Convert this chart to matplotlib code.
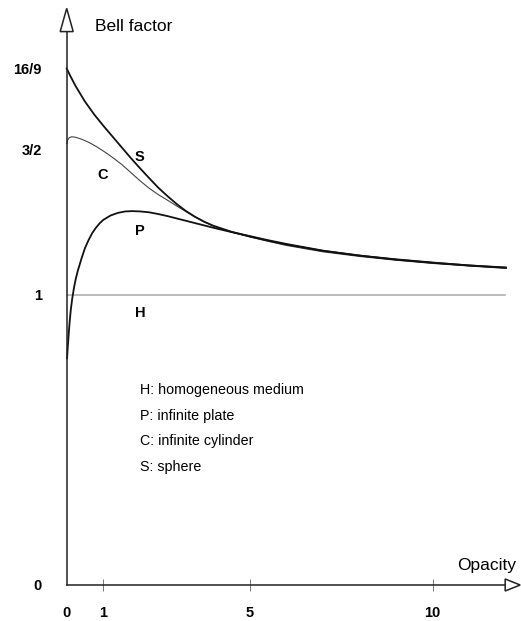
import matplotlib
matplotlib.use("Agg")
import matplotlib.pyplot as plt
from matplotlib.patches import Polygon

plt.rcParams['font.family'] = ['Liberation Sans', 'DejaVu Sans']

# ---- data ----
s_x = [0, 0.1, 0.25, 0.5, 0.75, 1.0, 1.25, 1.5, 1.75, 2.0, 2.25, 2.5, 2.75, 3.0, 3.25,
       3.5, 3.75, 4.0, 4.5, 5, 5.5, 6, 7, 8, 9, 10, 11, 12]
s_y = [1.778, 1.752, 1.716, 1.664, 1.620, 1.581, 1.544, 1.507, 1.470, 1.435, 1.401,
       1.368, 1.339, 1.312, 1.288, 1.268, 1.251, 1.237, 1.216, 1.200, 1.185, 1.172,
       1.150, 1.134, 1.121, 1.110, 1.100, 1.092]

c_x = [0, 0.03, 0.07, 0.14, 0.25, 0.4, 0.6, 0.8, 1.0, 1.25, 1.5, 1.75, 2.0, 2.25, 2.5,
       2.75, 3.0, 3.25, 3.5, 3.75, 4, 4.5, 5, 6, 7, 8, 9, 10, 11, 12]
c_y = [1.52, 1.532, 1.540, 1.543, 1.541, 1.535, 1.524, 1.510, 1.494, 1.472, 1.448,
       1.420, 1.392, 1.366, 1.344, 1.325, 1.305, 1.286, 1.267, 1.250, 1.236, 1.215,
       1.198, 1.169, 1.147, 1.131, 1.118, 1.107, 1.098, 1.090]

p_x = [0.01, 0.03, 0.05, 0.08, 0.11, 0.15, 0.2, 0.25, 0.3, 0.4, 0.5, 0.6, 0.7, 0.8,
       0.9, 1.0, 1.2, 1.4, 1.6, 1.8, 2.0, 2.25, 2.5, 2.75, 3.0, 3.5, 4.0, 4.5, 5, 5.5,
       6, 7, 8, 9, 10, 11, 12]
p_y = [0.78, 0.82, 0.855, 0.905, 0.945, 0.985, 1.024, 1.055, 1.08, 1.122, 1.160,
       1.188, 1.212, 1.230, 1.245, 1.257, 1.272, 1.281, 1.286, 1.287, 1.286, 1.283,
       1.277, 1.270, 1.262, 1.246, 1.230, 1.215, 1.201, 1.187, 1.174, 1.151, 1.134,
       1.120, 1.109, 1.100, 1.093]

h_x = [0, 11.98]
h_y = [1.0, 1.0]

x_ticks = [0, 1, 5, 10]
x_ticklabels = ['0', '1', '5', '10']
y_ticks = [0, 1, 1.5, 16 / 9]
y_ticklabels = ['0', '1', '3/2', '16/9']

curve_labels = ['S', 'C', 'P', 'H']
legend_lines = ['H: homogeneous medium', 'P: infinite plate',
                'C: infinite cylinder', 'S: sphere']

# ---- figure ----
W, H = 521, 621
fig = plt.figure(figsize=(W / 100, H / 100), dpi=100)
x0px, y0px = 66.7, 585.0
sx, sy = 36.6, 290.5
xmax, ymax = 12.4, 2.0
ax = fig.add_axes([x0px / W, (H - y0px) / H, sx * xmax / W, sy * ymax / H])
ax.set_xlim(0, xmax)
ax.set_ylim(0, ymax)

for side in ['top', 'right']:
    ax.spines[side].set_visible(False)
axis_col = '#222222'
ax.spines['left'].set_bounds(0, 1.905)
ax.spines['bottom'].set_bounds(0, 11.98)
for side in ['left', 'bottom']:
    ax.spines[side].set_linewidth(1.1)
    ax.spines[side].set_color(axis_col)

# arrows (open triangles)
hw = 6.5 / sx
ax.add_patch(Polygon([(-hw, 1.905), (0, 1.985), (hw, 1.905)], closed=True,
                     fill=False, edgecolor=axis_col, linewidth=1.1, clip_on=False))
hh = 6.0 / sy
ax.add_patch(Polygon([(11.98, -hh), (12.39, 0), (11.98, hh)], closed=True,
                     fill=False, edgecolor=axis_col, linewidth=1.1, clip_on=False))

# curves
ax.plot(h_x, h_y, color='#a8a8a8', lw=1.1, clip_on=False)
ax.plot(c_x, c_y, color='#444444', lw=0.8, clip_on=False)
ax.plot(p_x, p_y, color='#111111', lw=1.3, clip_on=False)
ax.plot(s_x, s_y, color='#111111', lw=1.3, clip_on=False)

# ticks
ax.set_xticks(x_ticks)
ax.set_xticklabels(x_ticklabels, fontweight='bold', fontsize=10.5)
ax.tick_params(axis='x', direction='inout', length=8.6, width=0.7, colors='#777777',
               pad=11.0, labelcolor='black')
ax.xaxis.get_major_ticks()[0].tick1line.set_visible(False)
ax.set_yticks(y_ticks)
ax.set_yticklabels(y_ticklabels, fontweight='bold', fontsize=10.5)
ax.tick_params(axis='y', length=0, pad=18.0)

# curve labels
lab_pos = [(2.0, 1.473), (0.99, 1.411), (2.0, 1.22), (2.0, 0.937)]
for t, (lx, ly) in zip(curve_labels, lab_pos):
    ax.text(lx, ly, t, ha='center', va='center', fontsize=10.5, fontweight='bold')

# legend text
for i, t in enumerate(legend_lines):
    ax.text(2.0, [0.671, 0.582, 0.496, 0.406][i], t, ha='left', va='center', fontsize=10.3)

# axis titles
ax.text(0.773, 1.921, 'Bell factor', ha='left', va='center', fontsize=12.5, clip_on=False)
ax.text(10.66, 0.0688, 'Opacity', ha='left', va='center', fontsize=12.5, clip_on=False)

fig.savefig('out.png', dpi=100)
